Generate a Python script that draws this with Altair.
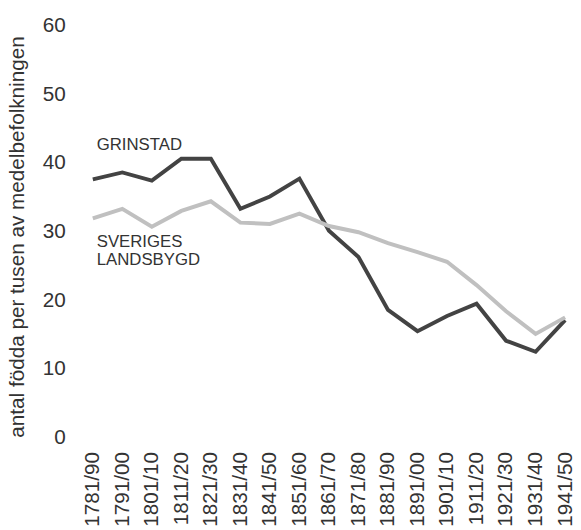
import altair as alt
import pandas as pd

periods = ["1781/90", "1791/00", "1801/10", "1811/20", "1821/30", "1831/40",
           "1841/50", "1851/60", "1861/70", "1871/80", "1881/90", "1891/00",
           "1901/10", "1911/20", "1921/30", "1931/40", "1941/50"]
grinstad = [37.6, 38.6, 37.4, 40.6, 40.6, 33.3, 35.1, 37.7, 30.1, 26.3,
            18.6, 15.5, 17.7, 19.5, 14.1, 12.5, 17.1]
landsbygd = [31.9, 33.3, 30.7, 33.0, 34.4, 31.3, 31.1, 32.6, 30.8, 29.9,
             28.3, 27.0, 25.6, 22.2, 18.4, 15.1, 17.5]

series_names = ["Grinstad", "Sveriges landsbygd"]
series_colors = ["#434343", "#c0c0c0"]

label_texts = ["GRINSTAD", "SVERIGES\nLANDSBYGD"]
label_periods = ["1781/90", "1781/90"]
label_values = [41.8, 27.7]

rows = []
for name, vals in zip(series_names, [grinstad, landsbygd]):
    for p, v in zip(periods, vals):
        rows.append({"period": p, "value": v, "series": name})
df = pd.DataFrame(rows)
labels = pd.DataFrame({"text": label_texts, "period": label_periods, "value": label_values})

FONT = "Liberation Sans"

x = alt.X("period:O", sort=periods,
          scale=alt.Scale(type="point", range=[14, 493], padding=0),
          axis=alt.Axis(title=None, labelAngle=270, ticks=False, domain=False,
                        labelPadding=14, labelFontSize=21, labelFont=FONT,
                        labelColor="#333333"))
y = alt.Y("value:Q", scale=alt.Scale(domain=[0, 60], nice=False),
          axis=alt.Axis(title="antal födda per tusen av medelbefolkningen",
                        values=[0, 10, 20, 30, 40, 50, 60], ticks=False,
                        domain=False, grid=False, labelPadding=14,
                        labelFontSize=21, labelFont=FONT, labelColor="#333333",
                        titleFont=FONT, titleFontSize=21, titleFontWeight="normal",
                        titleColor="#333333", titlePadding=15, titleY=214))

lines = alt.Chart(df).mark_line(strokeWidth=4, strokeJoin="miter").encode(
    x=x, y=y,
    color=alt.Color("series:N", scale=alt.Scale(domain=series_names, range=series_colors),
                    legend=None),
    order=alt.Order("series:N", sort="descending"),
)

texts = alt.Chart(labels).mark_text(align="left", baseline="alphabetic", dx=4,
                                     lineBreak="\n", lineHeight=17.5,
                                     font=FONT, fontSize=17, color="#333333").encode(
    x=alt.X("period:O", sort=periods), y=alt.Y("value:Q"), text="text:N")

chart = alt.layer(lines, texts).properties(
    width=501, height=418,
    autosize=alt.AutoSizeParams(type="none"),
    padding={"left": 72, "top": 14, "right": 0, "bottom": 90},
).configure_view(stroke=None)

chart.save("out.html", embed_options={"renderer": "svg", "actions": False})
